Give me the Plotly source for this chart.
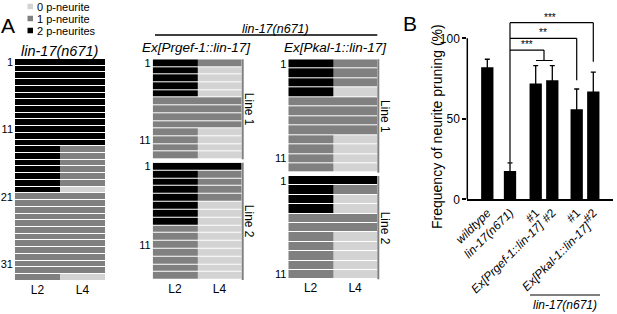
import plotly.graph_objects as go

# ---------------- data ----------------
state_names = ["0 p-neurite", "1 p-neurite", "2 p-neurites"]
stages = ["L2", "L4"]

# panel A: number of p-neurites per animal (0/1/2) at L2 and L4
lin17_L2 = [2, 2, 2, 2, 2, 2, 2, 2, 2, 2, 2, 2, 2, 2, 2, 2, 2, 2, 2, 2,
            1, 1, 1, 1, 1, 1, 1, 1, 1, 1, 1, 1, 1]
lin17_L4 = [2, 2, 2, 2, 2, 2, 2, 2, 2, 2, 2, 2, 2, 1, 1, 1, 1, 1, 1, 0,
            1, 1, 1, 1, 1, 1, 1, 1, 1, 1, 1, 1, 0]
prgef_line1_L2 = [2, 2, 2, 2, 2, 1, 1, 1, 1, 1, 1, 1, 1]
prgef_line1_L4 = [1, 0, 0, 0, 0, 1, 1, 1, 1, 0, 0, 0, 0]
prgef_line2_L2 = [2, 2, 2, 2, 2, 2, 2, 2, 1, 1, 1, 1, 1, 1, 1]
prgef_line2_L4 = [2, 1, 1, 1, 1, 0, 0, 0, 0, 0, 0, 0, 0, 0, 0]
pkal_line1_L2 = [2, 2, 2, 2, 1, 1, 1, 1, 1, 1, 1, 1]
pkal_line1_L4 = [1, 1, 1, 0, 1, 1, 1, 1, 0, 0, 0, 0]
pkal_line2_L2 = [2, 2, 2, 2, 1, 1, 1, 1, 1, 1, 1]
pkal_line2_L4 = [2, 1, 0, 0, 1, 1, 0, 0, 0, 0, 0]

# panel B
genotypes = ["<i>wildtype</i>", "<i>lin-17(n671)</i>", "#1", "#2", "#1", "#2"]
pruning_pct = [82, 17.6, 72, 74, 56, 67]
pruning_err = [5, 5, 11, 9, 12.5, 12]
sig_labels = ["***", "**", "***"]

# ---------------- layout helpers ----------------
W, H = 617, 314
FONT = "Liberation Sans, Arial, sans-serif"
LIGHT, MID, DARK = "#d3d3d3", "#808080", "#000000"


def fx(px):
    return px / W


def fy(py):
    return 1 - py / H


fig = go.Figure()
cs = [[0, LIGHT], [1 / 3, LIGHT], [1 / 3, MID], [2 / 3, MID], [2 / 3, DARK], [1, DARK]]

panels = [
    # (L2, L4, x px domain, y px domain (top,bottom), tickvals, show x labels)
    (lin17_L2, lin17_L4, (15, 105), (59, 280.7), [1, 11, 21, 31], True),
    (prgef_line1_L2, prgef_line1_L4, (152.7, 241.7), (59.3, 159.3), [1, 11], False),
    (prgef_line2_L2, prgef_line2_L4, (152.7, 241.7), (162.7, 280), [1, 11], True),
    (pkal_line1_L2, pkal_line1_L4, (288.3, 377.3), (59.3, 172.7), [1, 11], False),
    (pkal_line2_L2, pkal_line2_L4, (288.3, 377.3), (176, 279.3), [1, 11], True),
]

layout_axes = {}
for i, (l2, l4, xd, yd, tv, showx) in enumerate(panels, start=1):
    n = len(l2)
    suffix = "" if i == 1 else str(i)
    fig.add_trace(go.Heatmap(
        x=stages, y=list(range(1, n + 1)),
        z=[[a, b] for a, b in zip(l2, l4)],
        zmin=0, zmax=2, colorscale=cs, showscale=False,
        ygap=1, xgap=0, hoverinfo="skip",
        xaxis="x" + suffix, yaxis="y" + suffix,
    ))
    layout_axes["xaxis" + suffix] = dict(
        domain=[fx(xd[0]), fx(xd[1])], anchor="y" + suffix, automargin=False,
        showticklabels=showx, ticks="", showgrid=False, zeroline=False,
        showline=False, tickfont=dict(size=12, family=FONT, color="black"),
    )
    layout_axes["yaxis" + suffix] = dict(
        domain=[fy(yd[1]), fy(yd[0])], anchor="x" + suffix, automargin=False,
        range=[n + 0.5, 0.5], tickvals=tv, ticktext=[str(v) for v in tv],
        ticks="", showgrid=False, zeroline=False, showline=False,
        ticklabelstandoff=1,
        tickfont=dict(size=11, family=FONT, color="black"),
    )

# ---------------- panel B bars ----------------
bar_pos = [20, 42.7, 68.4, 85, 109.4, 126]
fig.add_trace(go.Bar(
    x=bar_pos, y=pruning_pct, width=12.3,
    marker=dict(color="black", line=dict(width=0)),
    error_y=dict(type="data", array=pruning_err, symmetric=True,
                 color="black", thickness=1.3, width=2.5),
    xaxis="x6", yaxis="y6", hoverinfo="skip",
))
B_x0, B_x1 = 467.3, 613.3
B_ybot, B_ppu = 199.3, 1.61
B_ymax = 115
layout_axes["xaxis6"] = dict(
    domain=[fx(B_x0), fx(B_x1)], anchor="y6", range=[0, 146], automargin=False,
    tickvals=bar_pos, ticktext=genotypes, tickangle=-45, ticks="",
    showline=True, linecolor="black", linewidth=1.5,
    showgrid=False, zeroline=False,
    tickfont=dict(size=12, family=FONT, color="black"),
)
layout_axes["yaxis6"] = dict(
    domain=[fy(B_ybot), fy(B_ybot - B_ymax * B_ppu)], anchor="x6", automargin=False,
    range=[0, B_ymax], tickvals=[0, 50, 100], ticks="outside", ticklen=4,
    tickwidth=1.5, tickcolor="black", showline=False, showgrid=False,
    zeroline=False, tickfont=dict(size=12, family=FONT, color="black"),
)

shapes = []
# y axis line (0..100)
shapes.append(dict(type="line", xref="x6 domain", yref="y6", x0=0, x1=0,
                   y0=0, y1=100, line=dict(color="black", width=1.5)))
# significance brackets
lw = dict(color="black", width=1.2)


def seg(x0, y0, x1, y1):
    shapes.append(dict(type="line", xref="x6", yref="y6",
                       x0=x0, y0=y0, x1=x1, y1=y1, line=lw))


seg(bar_pos[1], 23, bar_pos[1], 109.7)
seg(bar_pos[1], 109.7, bar_pos[5], 109.7)
seg(bar_pos[5], 109.7, bar_pos[5], 85.5)
seg(bar_pos[1], 100, bar_pos[4], 100)
seg(bar_pos[4], 100, bar_pos[4], 74)
mid23 = (bar_pos[2] + bar_pos[3]) / 2
seg(bar_pos[1], 92.7, mid23, 92.7)
seg(mid23, 92.7, mid23, 86.2)
seg(bar_pos[2] + 0.3, 86.2, bar_pos[3] + 0.4, 86.2)

annotations = []
for txt, xv, yv in [(sig_labels[0], 82.7, 109.7), (sig_labels[1], 76, 100),
                    (sig_labels[2], 59.4, 92.7)]:
    annotations.append(dict(text=txt, xref="x6", yref="y6", x=xv, y=yv,
                            xanchor="center", yanchor="bottom", showarrow=False,
                            yshift=-2, font=dict(size=10, family=FONT, color="black")))

# vertical gray bars at right of transgenic panels
for xd_px, (t, b) in [(242.7, (59.3, 159.3)), (242.7, (162.7, 280)),
                      (378.3, (59.3, 172.7)), (378.3, (176, 279.3))]:
    shapes.append(dict(type="line", xref="paper", yref="paper",
                       x0=fx(xd_px), x1=fx(xd_px), y0=fy(t), y1=fy(b),
                       line=dict(color=MID, width=2)))

# header line and bottom line
shapes.append(dict(type="line", xref="paper", yref="paper", x0=fx(155), x1=fx(377.3),
                   y0=fy(35), y1=fy(35), line=dict(color="black", width=1.3)))
shapes.append(dict(type="line", xref="paper", yref="paper", x0=fx(530), x1=fx(600),
                   y0=fy(295), y1=fy(295), line=dict(color="black", width=1)))

# legend squares + text
for k, (name, col, yc) in enumerate(zip(state_names, [LIGHT, MID, DARK], [6.5, 18.5, 30.5])):
    shapes.append(dict(type="rect", xref="paper", yref="paper",
                       x0=fx(27.5), x1=fx(33), y0=fy(yc + 2.75), y1=fy(yc - 2.75),
                       fillcolor=col, line=dict(width=0)))
    annotations.append(dict(text=name, xref="paper", yref="paper", x=fx(35), y=fy(yc),
                            xanchor="left", yanchor="middle", showarrow=False,
                            font=dict(size=11, family=FONT, color="black")))


def label(text, x, y, size, angle=0, xanchor="center"):
    annotations.append(dict(text=text, xref="paper", yref="paper", x=fx(x), y=fy(y),
                            xanchor=xanchor, yanchor="middle", showarrow=False,
                            textangle=angle,
                            font=dict(size=size, family=FONT, color="black")))


label("A", 7.5, 25.5, 21)
label("B", 410, 24, 21)
label("<i>lin-17(n671)</i>", 59, 51, 14.5)
label("<i>lin-17(n671)</i>", 275, 28.5, 12.5)
label("<i>Ex[Prgef-1::lin-17]</i>", 196, 48, 13.5)
label("<i>Ex[Pkal-1::lin-17]</i>", 335.3, 48, 13.5)
label("Line 1", 248.5, 109.3, 12, angle=90)
label("Line 2", 248.5, 221.3, 12, angle=90)
label("Line 1", 385, 116, 12, angle=90)
label("Line 2", 385, 227.7, 12, angle=90)
label("Frequency of neurite pruning (%)", 437, 127, 14, angle=-90)
label("<i>Ex[Prgef-1::lin-17]</i>", 507.5, 257, 12, angle=-45)
label("<i>Ex[Pkal-1::lin-17]</i>", 556, 257, 12, angle=-45)
label("<i>lin-17(n671)</i>", 565, 305, 12)

fig.update_layout(
    width=W, height=H, autosize=False,
    margin=dict(l=0, r=0, t=0, b=0, pad=0),
    paper_bgcolor="white", plot_bgcolor="white",
    showlegend=False, font=dict(family=FONT, color="black"),
    shapes=shapes, annotations=annotations, **layout_axes,
)

fig.write_html(
    "out.html",
    config={"displayModeBar": False},
    post_script="document.body.style.margin='0';document.body.style.overflow='hidden';",
)
